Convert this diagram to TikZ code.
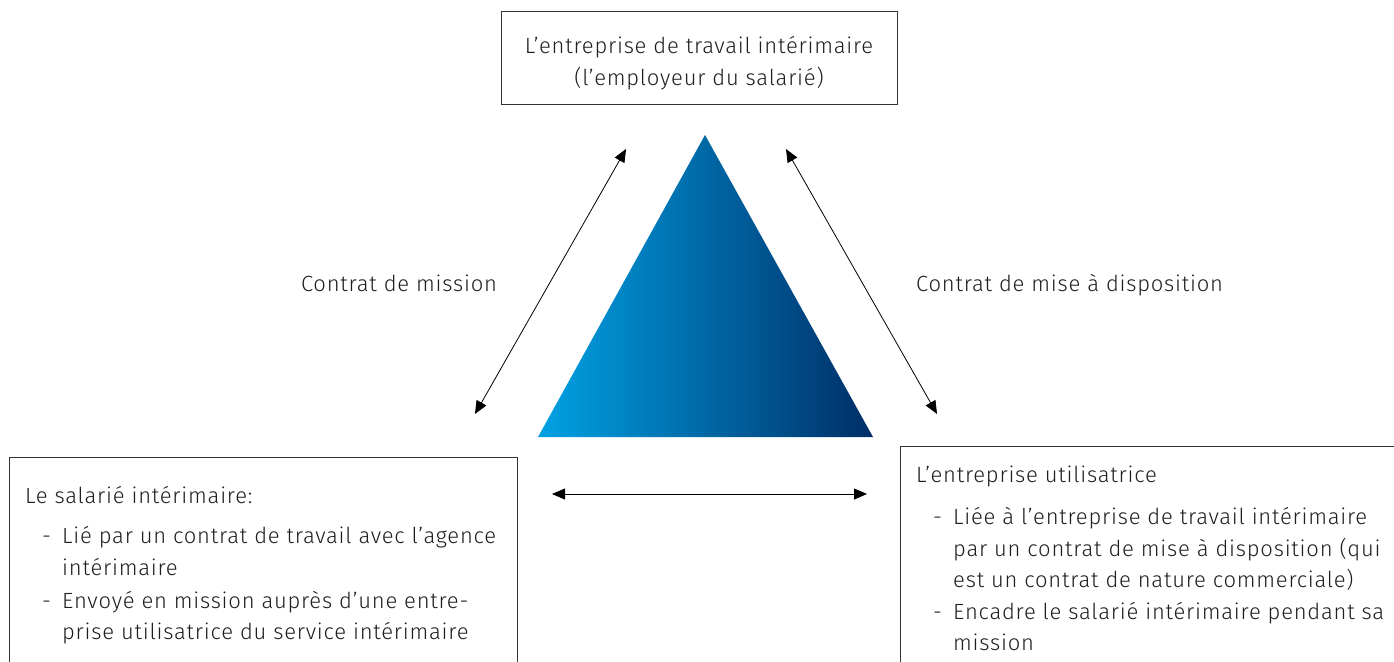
\documentclass[tikz,border=0pt]{standalone}
\usepackage{fontspec}
\IfFontExistsTF{Fira Sans Light}{\setmainfont{Fira Sans Light}[LetterSpace=3.5]}{\setmainfont{Fira Sans}[LetterSpace=3.5]}
\usetikzlibrary{arrows.meta}
\definecolor{tlight}{RGB}{0,162,228}
\definecolor{tdark}{RGB}{0,46,103}
\definecolor{txt}{RGB}{30,30,30}
\definecolor{frame}{RGB}{50,50,50}
\begin{document}
\begin{tikzpicture}[x=1pt,y=-1pt,
  every node/.style={font=\fontsize{22}{32}\selectfont, text=txt, inner sep=0pt},
  boxst/.style={draw=frame, line width=1pt},
  lineL/.style={anchor=base west},
  dbl/.style={line width=0.8pt, {Triangle[length=13pt,width=11pt]}-{Triangle[length=13pt,width=11pt]}}]
\useasboundingbox (0,0) rectangle (1394,661);
% top box
\draw[boxst] (501,12) rectangle (897,104);
\node[anchor=base] (t1) at (699,53) {L’entreprise de travail intérimaire};
\node[anchor=base] (t2) at (699,85) {(l’employeur du salarié)};
% triangle
\coordinate (apex) at (705,135);
\coordinate (bl) at (538,437);
\coordinate (br) at (873,437);
\shade[left color=tlight, right color=tdark] (apex) -- (br) -- (bl) -- cycle;
% arrows
\coordinate (la1) at (626,149);
\coordinate (la2) at (475,414);
\coordinate (ra1) at (786,149);
\coordinate (ra2) at (937,414);
\coordinate (ha1) at (552,494);
\coordinate (ha2) at (867,494);
\draw[dbl] (la2) -- (la1);
\draw[dbl] (ra1) -- (ra2);
\draw[dbl] (ha1) -- (ha2);
% labels
\node[anchor=base] (lm) at (399,291) {Contrat de mission};
\node[anchor=base west] (lr) at (916,291) {Contrat de mise à disposition};
% left box
\draw[boxst] (9,457) rectangle (517,700);
\node[lineL] (s0) at (25,503) {Le salarié intérimaire:};
\node[lineL] (s1b) at (42,543) {-};
\node[lineL] (s1) at (62,543) {Lié par un contrat de travail avec l’agence};
\node[lineL] (s1c) at (62,575) {intérimaire};
\node[lineL] (s2b) at (42,608) {-};
\node[lineL] (s2) at (62,608) {Envoyé en mission auprès d’une entre-};
\node[lineL] (s2c) at (62,639) {prise utilisatrice du service intérimaire};
% right box
\draw[boxst] (900,446) rectangle (1400,700);
\node[lineL] (u0) at (916,482) {L’entreprise utilisatrice};
\node[lineL] (u1b) at (933,524) {-};
\node[lineL] (u1) at (953,524) {Liée à l’entreprise de travail intérimaire};
\node[lineL] (u1c) at (953,556) {par un contrat de mise à disposition (qui};
\node[lineL] (u1d) at (953,587) {est un contrat de nature commerciale)};
\node[lineL] (u2b) at (933,619) {-};
\node[lineL] (u2) at (953,619) {Encadre le salarié intérimaire pendant sa};
\node[lineL] (u2c) at (953,650) {mission};
\end{tikzpicture}
\end{document}
